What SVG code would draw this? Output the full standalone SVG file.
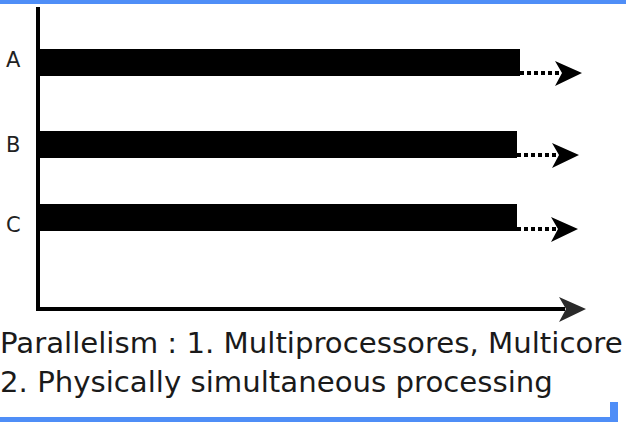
<svg xmlns="http://www.w3.org/2000/svg" width="626" height="422" viewBox="0 0 626 422">
<style>
.lbl{font-family:"DejaVu Sans",Verdana,sans-serif;font-size:21px;fill:#222}
.cap{font-family:"DejaVu Sans",Verdana,sans-serif;font-size:29.2px;fill:#1a1a1a}
.bar{fill:#000}
.dot{stroke:#000;stroke-width:4;stroke-dasharray:4 3;fill:none}
</style>
<defs>
<path id="ah" d="M0,0 L-27,-12 L-20,0 L-27,13 Z"/>
</defs>
<rect x="0" y="0" width="626" height="422" fill="#fff"/>
<rect x="0" y="0" width="626" height="4" fill="#4f8ef7"/>
<path d="M0,417 H610 V402 H618 V422 H0 Z" fill="#4f8ef7"/>
<g id="axes">
<path d="M38,7 V309 H565" fill="none" stroke="#000" stroke-width="4"/>
<use href="#ah" x="586" y="309" fill="#2a2a2a"/>
</g>
<g id="nodeA">
<text class="lbl" x="6" y="67">A</text>
<rect class="bar" x="38" y="49" width="482" height="27"/>
</g>
<g id="nodeB">
<text class="lbl" x="6" y="152">B</text>
<rect class="bar" x="38" y="131" width="479" height="27"/>
</g>
<g id="nodeC">
<text class="lbl" x="6" y="232">C</text>
<rect class="bar" x="38" y="204" width="479" height="27"/>
</g>
<g id="connectors">
<line class="dot" x1="520" y1="73" x2="560" y2="73"/>
<use href="#ah" x="582" y="73" fill="#000"/>
<line class="dot" x1="517" y1="155" x2="557" y2="155"/>
<use href="#ah" x="579" y="155" fill="#000"/>
<line class="dot" x1="517" y1="229" x2="556" y2="229"/>
<use href="#ah" x="578" y="229" fill="#000"/>
</g>
<g id="caption">
<text class="cap" x="0" y="353">Parallelism : 1. Multiprocessores, Multicore</text>
<text class="cap" x="0" y="392">2. Physically simultaneous processing</text>
</g>
</svg>
